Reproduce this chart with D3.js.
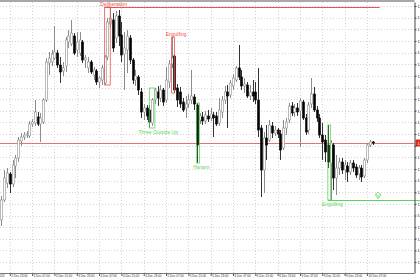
<!DOCTYPE html>
<html lang="en">
<head>
<meta charset="UTF-8">
<script src="https://d3js.org/d3.v7.min.js"></script>
<style>
    body { margin: 0; background: #fff; }
    svg { display: block; font-family: "Liberation Sans", Arial, sans-serif; }
</style>
</head>
<body>
<svg id="chart" width="420" height="280"></svg>
<script>
// H1 candles, 2 Dec 20:00 .. 10 Dec 09:00 (weekend skipped)
const opens = [1.0386,1.0406,1.0423,1.0432,1.0422,1.0440,1.0448,1.0465,1.0469,1.0471,
    1.0470,1.0482,1.0483,1.0489,1.0482,1.0484,1.0506,1.0543,1.0544,1.0548,
    1.0553,1.0541,1.0535,1.0540,1.0564,1.0562,1.0570,1.0556,1.0553,1.0564,
    1.0546,1.0538,1.0544,1.0531,1.0535,1.0524,1.0526,1.0523,1.0549,1.0582,
    1.0586,1.0568,1.0590,1.0571,1.0552,1.0556,1.0568,1.0546,1.0526,1.0529,
    1.0514,1.0494,1.0498,1.0496,1.0483,1.0506,1.0514,1.0508,1.0516,1.0506,
    1.0524,1.0542,1.0550,1.0518,1.0514,1.0504,1.0498,1.0502,1.0506,1.0509,
    1.0501,1.0486,1.0489,1.0485,1.0490,1.0488,1.0491,1.0490,1.0483,1.0494,
    1.0506,1.0514,1.0511,1.0520,1.0526,1.0538,1.0529,1.0520,1.0521,1.0510,
    1.0514,1.0514,1.0506,1.0478,1.0436,1.0468,1.0466,1.0480,1.0473,1.0476,
    1.0472,1.0458,1.0478,1.0486,1.0500,1.0494,1.0498,1.0495,1.0504,1.0488,
    1.0476,1.0502,1.0512,1.0496,1.0488,1.0471,1.0466,1.0461,1.0443,1.0461,
    1.0428,1.0438,1.0444,1.0436,1.0440,1.0434,1.0443,1.0439,1.0432,1.0438,
    1.0430,1.0446,1.0461,1.0464];
const highs = [1.0410,1.0436,1.0438,1.0434,1.0446,1.0451,1.0469,1.0473,1.0474,1.0475,
    1.0485,1.0487,1.0506,1.0494,1.0493,1.0508,1.0548,1.0554,1.0556,1.0580,
    1.0556,1.0549,1.0544,1.0569,1.0576,1.0586,1.0573,1.0574,1.0574,1.0566,
    1.0551,1.0549,1.0546,1.0539,1.0537,1.0530,1.0541,1.0551,1.0588,1.0599,
    1.0593,1.0595,1.0596,1.0584,1.0574,1.0576,1.0571,1.0548,1.0536,1.0531,
    1.0518,1.0502,1.0501,1.0501,1.0508,1.0518,1.0520,1.0521,1.0518,1.0539,
    1.0546,1.0569,1.0552,1.0522,1.0519,1.0508,1.0510,1.0512,1.0536,1.0512,
    1.0503,1.0493,1.0494,1.0495,1.0496,1.0498,1.0494,1.0494,1.0508,1.0510,
    1.0520,1.0521,1.0526,1.0532,1.0540,1.0561,1.0536,1.0528,1.0524,1.0521,
    1.0526,1.0524,1.0538,1.0481,1.0474,1.0481,1.0486,1.0484,1.0480,1.0478,
    1.0476,1.0486,1.0488,1.0503,1.0504,1.0502,1.0503,1.0508,1.0506,1.0492,
    1.0504,1.0528,1.0519,1.0500,1.0492,1.0483,1.0471,1.0481,1.0466,1.0463,
    1.0451,1.0448,1.0448,1.0446,1.0444,1.0446,1.0446,1.0442,1.0441,1.0441,
    1.0448,1.0463,1.0466,1.0465];
const lows = [1.0380,1.0404,1.0418,1.0413,1.0419,1.0428,1.0444,1.0460,1.0466,1.0468,
    1.0468,1.0479,1.0480,1.0480,1.0464,1.0482,1.0504,1.0531,1.0540,1.0546,
    1.0538,1.0523,1.0530,1.0534,1.0558,1.0560,1.0551,1.0549,1.0550,1.0543,
    1.0538,1.0533,1.0532,1.0526,1.0521,1.0518,1.0521,1.0521,1.0546,1.0578,
    1.0554,1.0563,1.0560,1.0544,1.0516,1.0533,1.0542,1.0522,1.0520,1.0511,
    1.0488,1.0486,1.0486,1.0478,1.0480,1.0502,1.0500,1.0504,1.0500,1.0503,
    1.0518,1.0538,1.0513,1.0499,1.0498,1.0494,1.0488,1.0498,1.0502,1.0496,
    1.0443,1.0482,1.0481,1.0482,1.0484,1.0485,1.0469,1.0480,1.0480,1.0488,
    1.0502,1.0478,1.0508,1.0516,1.0524,1.0526,1.0516,1.0513,1.0508,1.0506,
    1.0504,1.0502,1.0469,1.0409,1.0413,1.0446,1.0464,1.0468,1.0470,1.0468,
    1.0446,1.0456,1.0471,1.0483,1.0490,1.0489,1.0490,1.0459,1.0486,1.0471,
    1.0472,1.0498,1.0494,1.0484,1.0468,1.0446,1.0444,1.0438,1.0406,1.0416,
    1.0411,1.0431,1.0432,1.0426,1.0424,1.0431,1.0434,1.0428,1.0426,1.0424,
    1.0428,1.0443,1.0459,1.0461];
const closes = [1.0406,1.0428,1.0433,1.0422,1.0441,1.0448,1.0466,1.0469,1.0471,1.0472,
    1.0482,1.0484,1.0494,1.0482,1.0488,1.0506,1.0544,1.0548,1.0552,1.0554,
    1.0541,1.0534,1.0538,1.0566,1.0570,1.0573,1.0553,1.0564,1.0566,1.0546,
    1.0548,1.0544,1.0534,1.0536,1.0524,1.0528,1.0538,1.0549,1.0584,1.0588,
    1.0558,1.0590,1.0570,1.0551,1.0558,1.0570,1.0546,1.0526,1.0530,1.0516,
    1.0494,1.0498,1.0490,1.0484,1.0506,1.0516,1.0508,1.0516,1.0504,1.0526,
    1.0542,1.0548,1.0516,1.0506,1.0502,1.0496,1.0502,1.0506,1.0510,1.0502,
    1.0461,1.0490,1.0485,1.0491,1.0487,1.0492,1.0488,1.0482,1.0496,1.0506,
    1.0514,1.0510,1.0523,1.0528,1.0538,1.0529,1.0520,1.0522,1.0510,1.0514,
    1.0510,1.0506,1.0476,1.0436,1.0468,1.0461,1.0481,1.0473,1.0476,1.0472,
    1.0456,1.0478,1.0484,1.0500,1.0493,1.0498,1.0494,1.0505,1.0488,1.0474,
    1.0501,1.0512,1.0496,1.0488,1.0471,1.0464,1.0454,1.0444,1.0463,1.0428,
    1.0438,1.0444,1.0436,1.0441,1.0434,1.0443,1.0438,1.0431,1.0438,1.0429,
    1.0446,1.0461,1.0464,1.0463];

// time axis labels (bar index -> text)
const xTickIdx = [-5,3,11,19,27,35,43,51,59,67,75,83,91,99,107,115,123,131];
const xTickText = ["2 Dec 2024","2 Dec 23:00","3 Dec 07:00","3 Dec 15:00","3 Dec 23:00",
    "4 Dec 07:00","4 Dec 15:00","4 Dec 23:00","5 Dec 07:00","5 Dec 15:00","5 Dec 23:00",
    "6 Dec 07:00","6 Dec 15:00","6 Dec 23:00","9 Dec 07:00","9 Dec 15:00","9 Dec 23:00","10 Dec 07:00"];

const priceTicks = [1.06000,1.05884,1.05767,1.05651,1.05534,1.05418,1.05302,1.05185,
    1.05069,1.04952,1.04836,1.04720,1.04603,1.04487,1.04370,1.04254,1.04138,1.04021,
    1.03905,1.03788,1.03672,1.03556,1.03439];

// detected candle patterns
const patternNames = ["Deliberation","Three Outside Up","Engulfing","Harami","Engulfing"];
const patternFrom = [37,53,61,70,117];
const patternTo = [39,55,62,71,118];
const patternBull = [false,true,false,true,true];

// levels drawn from patterns
const levelPrice = [1.0599,1.0406];
const levelFrom = [37,117];
const levelTo = [135.6,150];
const levelBull = [false,true];

// buy signal arrow
const arrowIdx = [135];
const arrowPrice = [1.0414];

const RED = "#f0504a", GREEN = "#5fd35f";
const plotR = 414.5, plotT = 2, plotB = 273;

const svg = d3.select("#chart");
const x = d3.scaleLinear().domain([0, 133]).range([1.43, 1.43 + 2.79 * 133]);
const y = d3.scaleLinear().domain([1.0333, 1.0604]).range([273, 2]);
const last = closes[closes.length - 1];

// grid
svg.append("g").selectAll("line").data(priceTicks).join("line")
    .attr("x1", 0).attr("x2", plotR)
    .attr("y1", d => Math.round(y(d)) + 0.5).attr("y2", d => Math.round(y(d)) + 0.5)
    .attr("stroke", "#d4d4d4").attr("stroke-dasharray", "1,2");
svg.append("g").selectAll("line").data(xTickIdx.filter(d => d >= 0)).join("line")
    .attr("x1", d => Math.round(x(d)) + 0.5).attr("x2", d => Math.round(x(d)) + 0.5)
    .attr("y1", plotT).attr("y2", plotB)
    .attr("stroke", "#d4d4d4").attr("stroke-dasharray", "1,2");

// top frame
svg.append("rect").attr("x", 0).attr("y", 0).attr("width", plotR).attr("height", 2).attr("fill", "#a8a8a8");

// current price line
svg.append("line").attr("x1", 0).attr("x2", plotR)
    .attr("y1", Math.round(y(last)) + 0.5).attr("y2", Math.round(y(last)) + 0.5)
    .attr("stroke", "#e57373");

// levels
levelPrice.forEach((p, k) => {
    svg.append("line")
        .attr("x1", x(levelFrom[k])).attr("x2", x(levelTo[k]))
        .attr("y1", Math.round(y(p)) + 0.5).attr("y2", Math.round(y(p)) + 0.5)
        .attr("stroke", levelBull[k] ? GREEN : RED);
});

// candles
const idx = d3.range(opens.length);
const cg = svg.append("g");
cg.selectAll("line").data(idx).join("line")
    .attr("x1", i => Math.round(x(i)) + 0.5).attr("x2", i => Math.round(x(i)) + 0.5)
    .attr("y1", i => y(highs[i])).attr("y2", i => y(lows[i]))
    .attr("stroke", i => closes[i] >= opens[i] ? "#8c8c8c" : "#333");
cg.selectAll("rect").data(idx).join("rect")
    .attr("x", i => Math.round(x(i)) - 0.5)
    .attr("width", 2)
    .attr("y", i => y(Math.max(opens[i], closes[i])))
    .attr("height", i => Math.max(1, Math.abs(y(opens[i]) - y(closes[i]))))
    .attr("fill", i => closes[i] >= opens[i] ? "#fff" : "#000")
    .attr("stroke", i => closes[i] >= opens[i] ? "#8c8c8c" : "#000")
    .attr("stroke-width", 0.6);

// patterns
patternNames.forEach((name, k) => {
    const a = patternFrom[k], b = patternTo[k];
    const hi = d3.max(d3.range(a, b + 1), i => highs[i]);
    const lo = d3.min(d3.range(a, b + 1), i => lows[i]);
    const col = patternBull[k] ? GREEN : RED;
    svg.append("rect")
        .attr("x", x(a)).attr("width", x(b) - x(a))
        .attr("y", y(hi)).attr("height", y(lo) - y(hi))
        .attr("fill", "none").attr("stroke", col).attr("stroke-width", 0.8);
    svg.append("text")
        .attr("x", x(a + 1.6 * (b - a)))
        .attr("y", patternBull[k] ? y(lo) + 5.5 : y(hi) - 1)
        .attr("text-anchor", "middle")
        .attr("font-size", 5).attr("fill", col)
        .text(name);
});

// arrow
arrowIdx.forEach((ai, k) => {
    const ax = x(ai), ay = y(arrowPrice[k]);
    svg.append("path")
        .attr("d", `M${ax},${ay} L${ax + 3},${ay + 3} L${ax + 1},${ay + 3} L${ax + 1},${ay + 6} L${ax - 1},${ay + 6} L${ax - 1},${ay + 3} L${ax - 3},${ay + 3} Z`)
        .attr("fill", "#fff").attr("stroke", GREEN).attr("stroke-width", 0.8);
});

// price axis (labels under the price marker are hidden, as the marker covers them)
const yAxis = d3.axisRight(y).tickValues(priceTicks).tickFormat(d3.format(".5f"))
    .tickSize(2).tickSizeOuter(0).tickPadding(1);
const yg = svg.append("g").attr("transform", `translate(${plotR},0)`).call(yAxis);
yg.select(".domain").attr("stroke", "#444");
yg.selectAll("text").attr("font-size", 4).attr("fill", "#222")
    .attr("display", d => Math.abs(y(d) - y(last)) < 6 ? "none" : null);
yg.selectAll("line").attr("stroke", "#444");

// current price marker
svg.append("rect").attr("x", plotR + 1).attr("y", y(last) - 3.5)
    .attr("width", 20).attr("height", 7).attr("fill", "#e0241b");
svg.append("text").attr("x", plotR + 3).attr("y", y(last) + 1.5)
    .attr("font-size", 4).attr("fill", "#fff").text(d3.format(".5f")(last));

// time axis
const xAxis = d3.axisBottom(x).tickValues(xTickIdx).tickFormat((d, i) => xTickText[i])
    .tickSize(3).tickSizeOuter(0);
const xg = svg.append("g").attr("transform", `translate(0,${plotB})`).call(xAxis);
xg.select(".domain").remove();
xg.selectAll("line").attr("stroke", "#555");
xg.selectAll("text").attr("text-anchor", "start").attr("x", 1).attr("y", 2.2)
    .attr("font-size", 3).attr("fill", "#333");
svg.append("line").attr("x1", 0).attr("x2", plotR).attr("y1", plotB + 0.5).attr("y2", plotB + 0.5)
    .attr("stroke", "#777");
</script>
</body>
</html>
